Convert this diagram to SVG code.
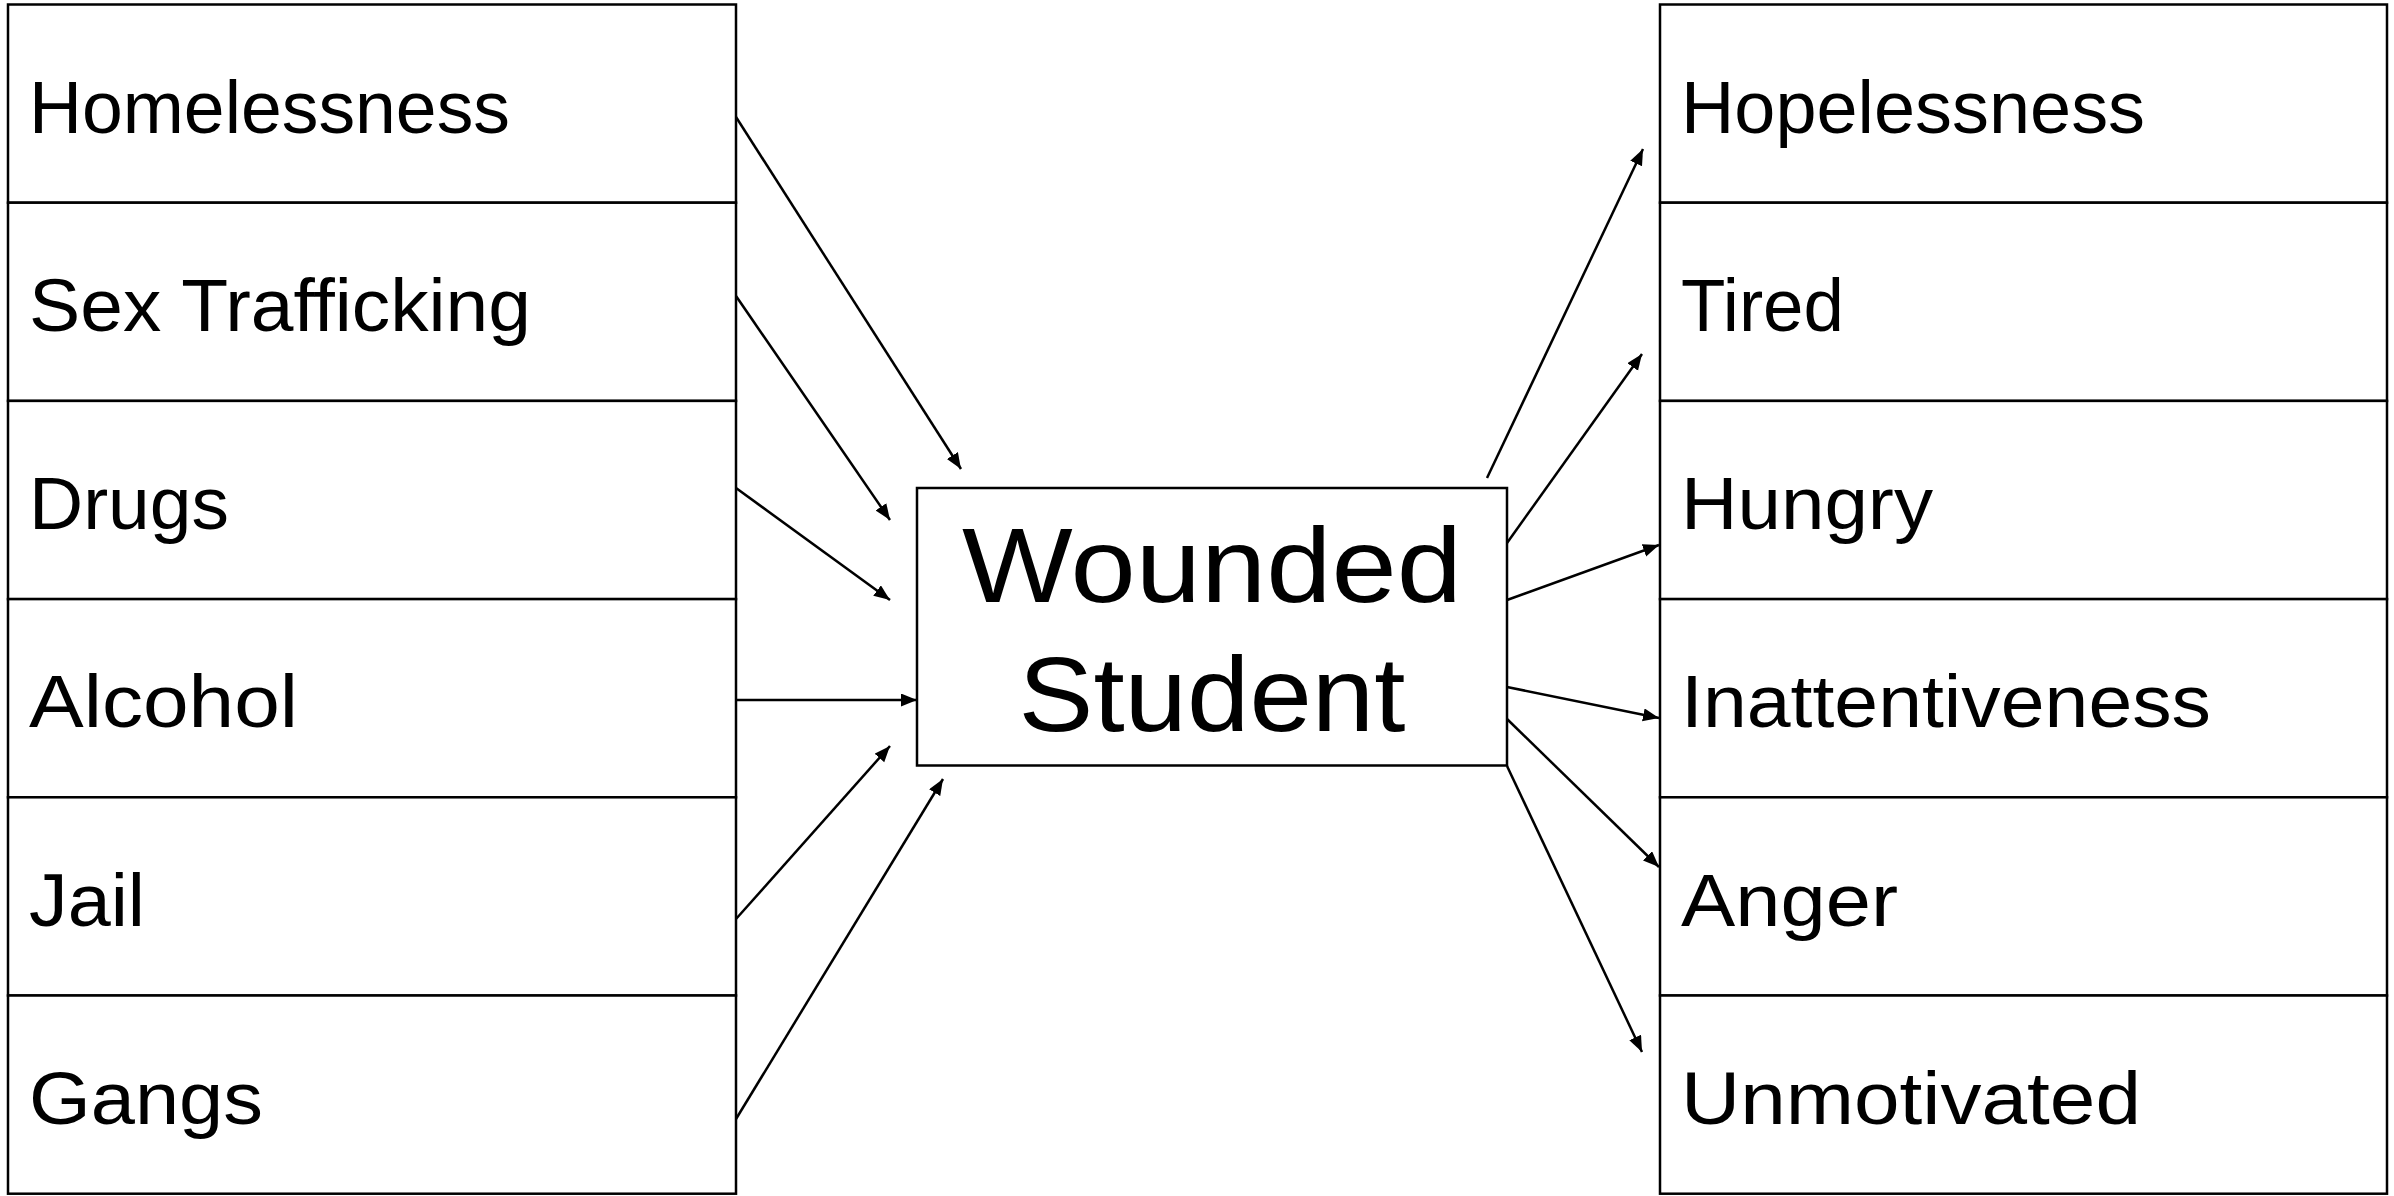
<svg xmlns="http://www.w3.org/2000/svg" width="2394" height="1196" viewBox="0 0 2394 1196">
<style>
.cell{fill:#fff;stroke:#000;stroke-width:2.5}
.lbl{font-family:"Liberation Sans",Arial,sans-serif;font-size:74px;fill:#000}
.big{font-family:"Liberation Sans",Arial,sans-serif;font-size:106px;fill:#000;text-anchor:middle}
.con{stroke:#000;stroke-width:2.5;fill:none;marker-end:url(#ah)}
</style>
<defs>
<marker id="ah" markerUnits="userSpaceOnUse" markerWidth="18" markerHeight="14" refX="16" refY="6.5" orient="auto">
<path d="M0,0 L16,6.5 L0,13 z" fill="#000"/>
</marker>
</defs>
<rect width="2394" height="1196" fill="#fff"/>
<g id="left-homelessness"><rect class="cell" x="8" y="4.5" width="728" height="198.2"/><text class="lbl" x="29" y="133" textLength="481" lengthAdjust="spacingAndGlyphs">Homelessness</text></g>
<g id="left-sex-trafficking"><rect class="cell" x="8" y="202.7" width="728" height="198.2"/><text class="lbl" x="29" y="331" textLength="502" lengthAdjust="spacingAndGlyphs">Sex Trafficking</text></g>
<g id="left-drugs"><rect class="cell" x="8" y="400.9" width="728" height="198.2"/><text class="lbl" x="29" y="529" textLength="200" lengthAdjust="spacingAndGlyphs">Drugs</text></g>
<g id="left-alcohol"><rect class="cell" x="8" y="599.1" width="728" height="198.2"/><text class="lbl" x="29" y="727" textLength="269" lengthAdjust="spacingAndGlyphs">Alcohol</text></g>
<g id="left-jail"><rect class="cell" x="8" y="797.3" width="728" height="198.2"/><text class="lbl" x="29" y="926" textLength="116" lengthAdjust="spacingAndGlyphs">Jail</text></g>
<g id="left-gangs"><rect class="cell" x="8" y="995.5" width="728" height="198.2"/><text class="lbl" x="29" y="1124" textLength="234" lengthAdjust="spacingAndGlyphs">Gangs</text></g>

<g id="right-hopelessness"><rect class="cell" x="1660" y="4.5" width="727" height="198.2"/><text class="lbl" x="1681" y="133" textLength="464" lengthAdjust="spacingAndGlyphs">Hopelessness</text></g>
<g id="right-tired"><rect class="cell" x="1660" y="202.7" width="727" height="198.2"/><text class="lbl" x="1681" y="331" textLength="163" lengthAdjust="spacingAndGlyphs">Tired</text></g>
<g id="right-hungry"><rect class="cell" x="1660" y="400.9" width="727" height="198.2"/><text class="lbl" x="1681" y="529" textLength="252" lengthAdjust="spacingAndGlyphs">Hungry</text></g>
<g id="right-inattentiveness"><rect class="cell" x="1660" y="599.1" width="727" height="198.2"/><text class="lbl" x="1681" y="727" textLength="530" lengthAdjust="spacingAndGlyphs">Inattentiveness</text></g>
<g id="right-anger"><rect class="cell" x="1660" y="797.3" width="727" height="198.2"/><text class="lbl" x="1681" y="926" textLength="217" lengthAdjust="spacingAndGlyphs">Anger</text></g>
<g id="right-unmotivated"><rect class="cell" x="1660" y="995.5" width="727" height="198.2"/><text class="lbl" x="1681" y="1124" textLength="460" lengthAdjust="spacingAndGlyphs">Unmotivated</text></g>

<g id="wounded-student"><rect class="cell" x="917" y="488" width="590" height="277.5"/>
<text class="big" x="1212" y="601.5" textLength="500" lengthAdjust="spacingAndGlyphs">Wounded</text>
<text class="big" x="1212" y="730.5" textLength="387" lengthAdjust="spacingAndGlyphs">Student</text></g>

<g id="connectors">
<line class="con" x1="736" y1="117" x2="961" y2="469"/>
<line class="con" x1="736" y1="296" x2="890" y2="520"/>
<line class="con" x1="736" y1="488" x2="890" y2="600"/>
<line class="con" x1="736" y1="700" x2="917" y2="700"/>
<line class="con" x1="736" y1="919" x2="890" y2="746"/>
<line class="con" x1="736" y1="1119" x2="943" y2="779"/>
<line class="con" x1="1487" y1="478" x2="1643" y2="149"/>
<line class="con" x1="1507" y1="543" x2="1642" y2="354"/>
<line class="con" x1="1507" y1="600" x2="1659" y2="545"/>
<line class="con" x1="1507" y1="687" x2="1659" y2="718"/>
<line class="con" x1="1507" y1="719" x2="1659" y2="867"/>
<line class="con" x1="1507" y1="766" x2="1642" y2="1052"/>
</g>
</svg>
